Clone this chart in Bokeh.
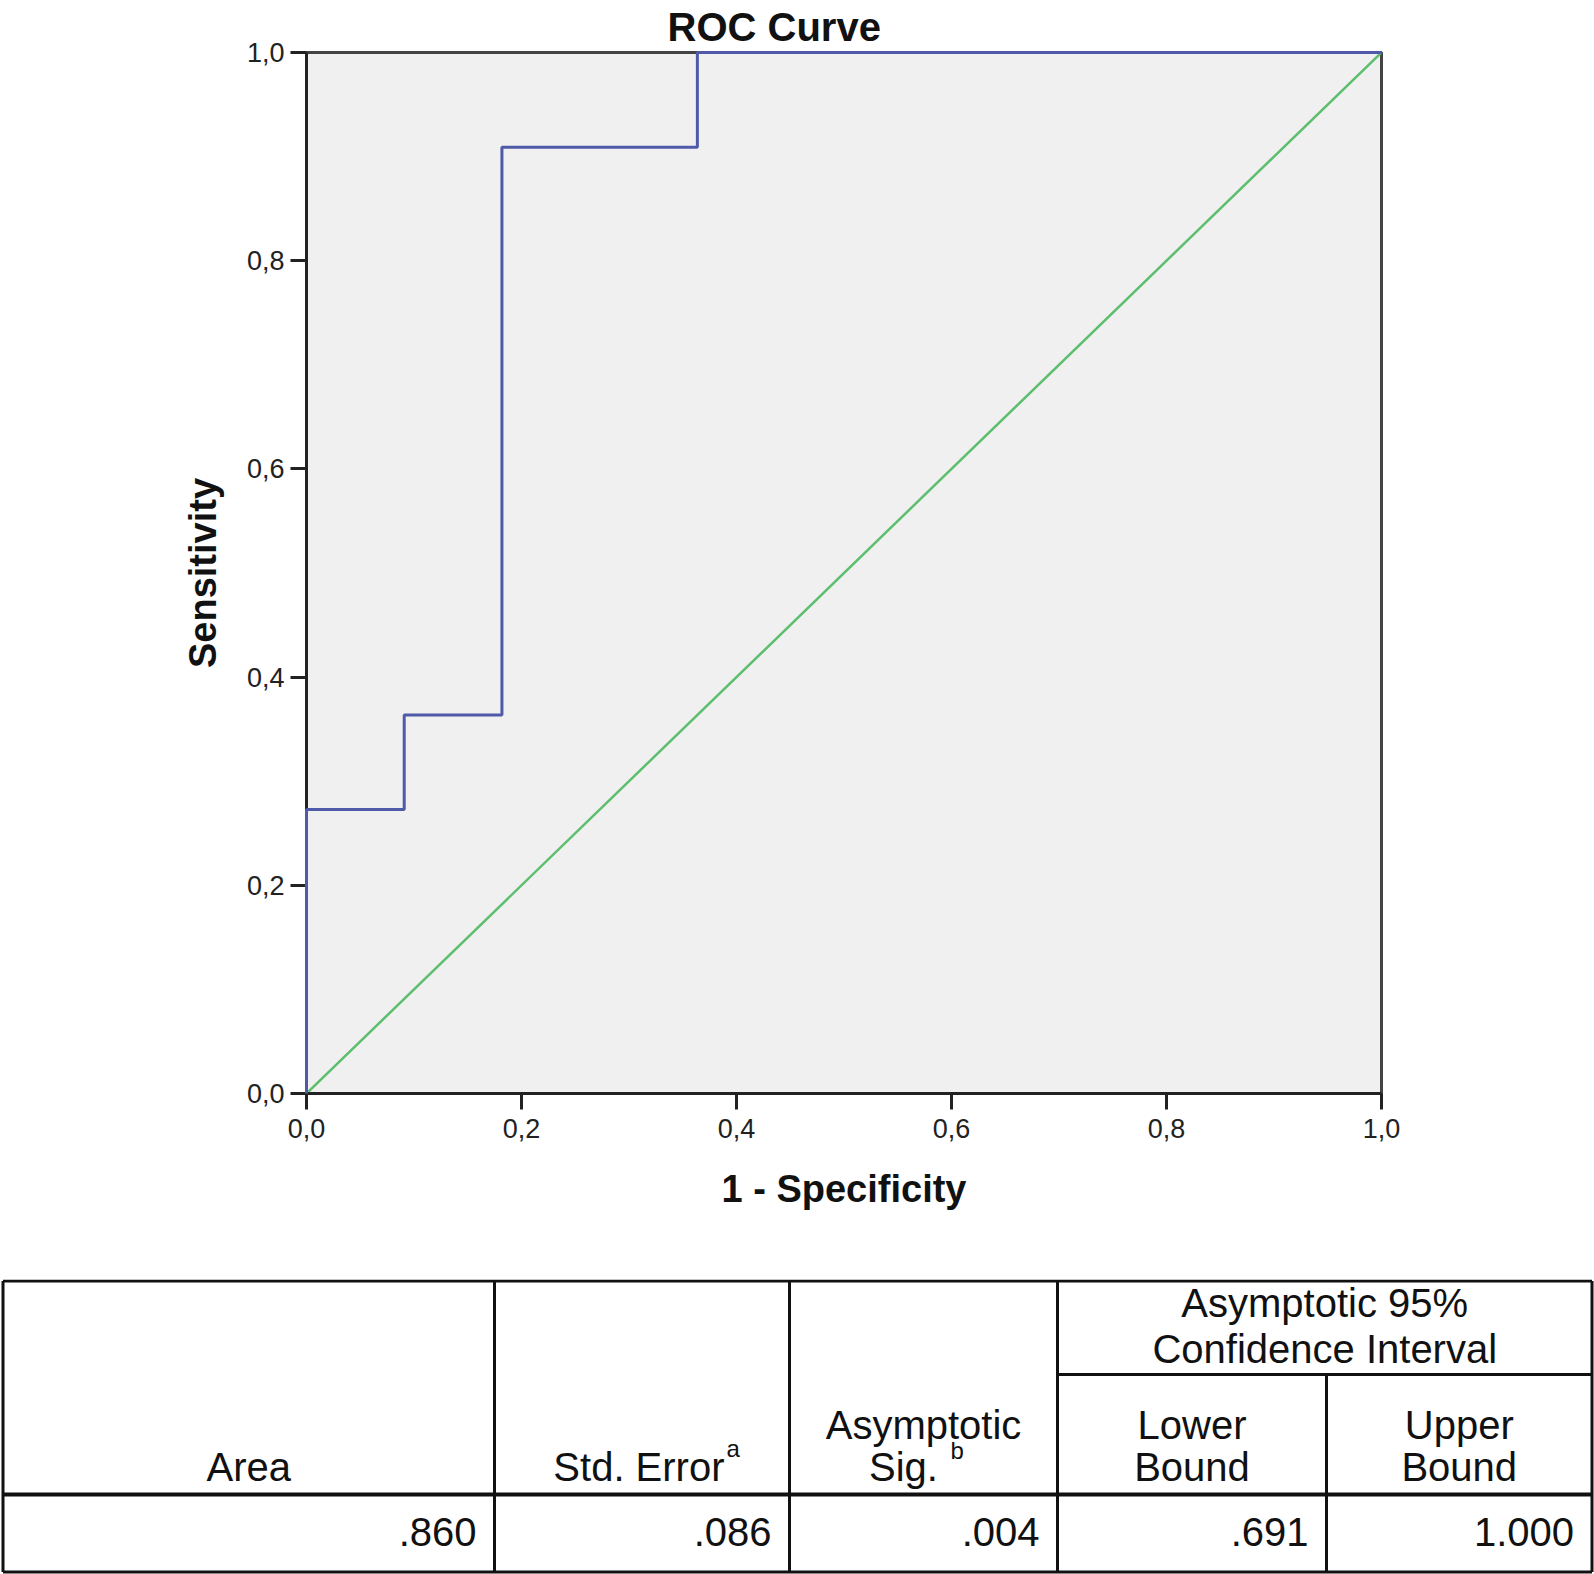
from bokeh.plotting import figure
from bokeh.models import Range1d, FixedTicker, CustomJSTickFormatter
from bokeh.layouts import column
from bokeh.embed import file_html
from bokeh.resources import INLINE
from bokeh.core.properties import value

# ---------------- data ----------------
fpr = [0.0, 0.0, 0.0909, 0.0909, 0.1818, 0.1818, 0.3636, 0.3636, 1.0]
tpr = [0.0, 0.2727, 0.2727, 0.3636, 0.3636, 0.9091, 0.9091, 1.0, 1.0]
ref_x = [0.0, 1.0]
ref_y = [0.0, 1.0]
ticks = [0.0, 0.2, 0.4, 0.6, 0.8, 1.0]

chart_title = "ROC Curve"
x_title = "1 - Specificity"
y_title = "Sensitivity"

header_lines = ["Area", "Std. Error", "Asymptotic", "Sig.", "Asymptotic 95%",
                "Confidence Interval", "Lower", "Bound", "Upper", "Bound"]
superscripts = ["a", "b"]
table_values = [".860", ".086", ".004", ".691", "1.000"]

# ---------------- layout ----------------
W = 1594
H1 = 1279
H2 = 1574 - H1
FONT = "Liberation Sans"

p = figure(width=W, height=H1, x_range=Range1d(0, 1), y_range=Range1d(0, 1),
           output_backend="svg", toolbar_location=None,
           min_border_left=306, min_border_right=213,
           min_border_top=51, min_border_bottom=186)
p.frame_align = False
p.background_fill_color = "#F0F0F0"
p.border_fill_color = "white"
p.grid.visible = False
p.outline_line_color = "#444444"
p.outline_line_width = 3

p.title.text = chart_title
p.title.align = "left"
p.title.offset = 361
p.title.standoff = 6
p.title.vertical_align = "middle"
p.title.text_font = FONT
p.title.text_font_style = "bold"
p.title.text_font_size = "40px"
p.title.text_color = "#111111"

for ax in (p.xaxis[0], p.yaxis[0]):
    ax.ticker = FixedTicker(ticks=ticks)
    ax.formatter = CustomJSTickFormatter(code="return tick.toFixed(1).replace('.', ',');")
    ax.major_tick_out = 16
    ax.major_tick_in = 0
    ax.minor_tick_line_color = None
    ax.axis_line_width = 3
    ax.axis_line_color = "#222222"
    ax.major_tick_line_width = 3
    ax.major_tick_line_color = "#222222"
    ax.major_label_text_font = FONT
    ax.major_label_text_font_size = "27px"
    ax.major_label_text_color = "#222222"
    ax.axis_label_text_font = FONT
    ax.axis_label_text_font_style = "bold"
    ax.axis_label_text_color = "#111111"
    ax.axis_label_text_font_size = "38px"

p.xaxis[0].axis_label = x_title
p.xaxis[0].major_label_standoff = 9
p.xaxis[0].axis_label_standoff = 27
p.yaxis[0].axis_label = y_title
p.yaxis[0].major_label_standoff = 6
p.yaxis[0].axis_label_standoff = 20

p.line(ref_x, ref_y, line_color="#5DBE6E", line_width=2.5)
p.line(fpr, tpr, line_color="#4F5BA8", line_width=3, level="overlay")

# ---------------- table ----------------
TOP = H1
t = figure(width=W, height=H2, x_range=Range1d(0, W), y_range=Range1d(TOP + H2, TOP),
           output_backend="svg", toolbar_location=None,
           x_axis_location=None, y_axis_location=None,
           min_border_left=0, min_border_right=0, min_border_top=0, min_border_bottom=0)
t.frame_align = False
t.grid.visible = False
t.outline_line_color = None
t.border_fill_color = "white"
t.background_fill_color = "white"

cx = [2.5, 494, 789, 1057, 1326, 1591.5]
yT, yS, yH, yB = 1280.5, 1374, 1494, 1571.5
lc = "#111111"

# horizontal rules
t.segment(x0=[cx[0], cx[3], cx[0]], y0=[yT, yS, yB], x1=[cx[5], cx[5], cx[5]], y1=[yT, yS, yB],
          line_color=lc, line_width=3)
t.segment(x0=[cx[0]], y0=[yH], x1=[cx[5]], y1=[yH], line_color=lc, line_width=4)
# vertical rules
t.segment(x0=cx, y0=[yT, yT, yT, yT, yS, yT], x1=cx, y1=[yB] * 6, line_color=lc, line_width=3)

fs = value("40px")
ff = value(FONT)
MID = 14  # distance from baseline to em-box middle at 40px
c0 = (cx[0] + cx[1]) / 2
c2 = (cx[2] + cx[3]) / 2
c34 = (cx[3] + cx[5]) / 2
c3 = (cx[3] + cx[4]) / 2
c4 = (cx[4] + cx[5]) / 2

hx = [c0, 724, c2, 903, c34, c34, c3, c3, c4, c4]
hy = [b - MID for b in [1480, 1480, 1438, 1480, 1316, 1362, 1438, 1480, 1438, 1480]]
ha = ["center", "right", "center", "center", "center", "center", "center", "center", "center", "center"]
t.text(x=hx, y=hy, text=header_lines, text_align=ha, text_baseline="middle",
       text_font=ff, text_font_size=fs, text_color="#111111")

t.text(x=[726, 950], y=[1456 - 8.4, 1458 - 8.4], text=superscripts, text_align="left",
       text_baseline="middle", text_font=ff, text_font_size=value("24px"),
       text_color="#111111")

vx = [c - 18 for c in cx[1:]]
t.text(x=vx, y=[1545 - MID] * 5, text=table_values, text_align="right",
       text_baseline="middle", text_font=ff, text_font_size=fs, text_color="#111111")

layout = column(p, t, spacing=0)
open("out.html", "w").write(file_html(layout, INLINE))
